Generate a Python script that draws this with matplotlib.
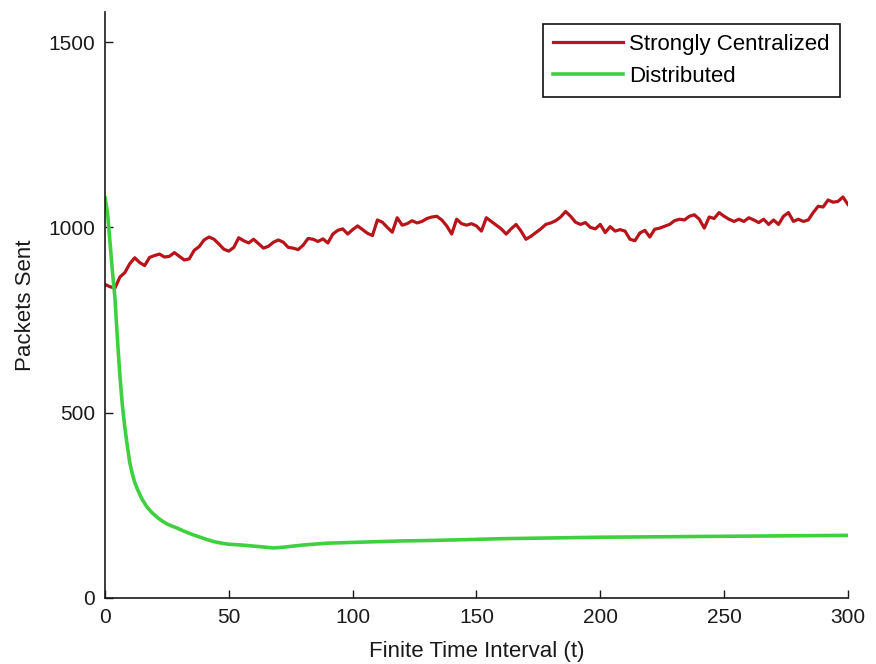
import numpy as np
import matplotlib
matplotlib.use("Agg")
import matplotlib.pyplot as plt

plt.rcParams['font.family'] = ['Liberation Sans', 'DejaVu Sans']

# Strongly centralized scheme: packets sent, sampled every 2 time steps
central_t = list(range(0, 301, 2))
central_packets = [
    846, 840, 836, 866, 878, 902, 918, 905, 897, 919,
    924, 928, 920, 922, 932, 922, 912, 915, 938, 948,
    966, 974, 968, 955, 941, 936, 946, 972, 964, 958,
    968, 956, 944, 949, 960, 966, 960, 946, 944, 940,
    952, 970, 968, 962, 969, 958, 982, 992, 996, 982,
    994, 1004, 994, 984, 978, 1020, 1014, 1000, 987, 1026,
    1006, 1010, 1018, 1012, 1016, 1024, 1028, 1030, 1020, 1004,
    982, 1022, 1010, 1006, 1010, 1004, 990, 1026, 1016, 1006,
    996, 982, 996, 1008, 990, 968, 976, 986, 996, 1008,
    1012, 1018, 1028, 1043, 1030, 1014, 1008, 1013, 1000, 996,
    1008, 986, 1002, 990, 994, 990, 968, 964, 985, 992,
    974, 995, 998, 1003, 1008, 1018, 1022, 1020, 1030, 1034,
    1022, 998, 1028, 1024, 1040, 1030, 1022, 1016, 1022, 1016,
    1026, 1020, 1013, 1022, 1008, 1020, 1008, 1030, 1040, 1016,
    1022, 1016, 1020, 1040, 1057, 1055, 1074, 1068, 1070, 1082,
    1062,
]

# Distributed scheme: packets sent
dist_t = [0, 1, 2, 3, 4, 5, 6, 7, 8, 9, 10, 11, 12, 13, 14, 15, 17, 19, 21,
          23, 25, 27, 29, 32, 35, 38, 41, 44, 47, 50, 55, 60, 65, 68, 72, 76,
          80, 90, 100, 110, 120, 130, 143, 160, 180, 200, 220, 240, 260, 280,
          300]
dist_packets = [1080, 1040, 960, 880, 810, 700, 600, 520, 460, 410, 365, 335,
                312, 295, 280, 266, 245, 230, 218, 208, 200, 194, 189, 180,
                172, 165, 158, 152, 148, 145, 143, 140, 137, 135, 137, 140,
                143, 148, 150, 152, 154, 155, 157, 160, 162, 164, 165, 166,
                167, 168, 169]

x_ticks = [0, 50, 100, 150, 200, 250, 300]
y_ticks = [0, 500, 1000, 1500]

ink = '#1a1a1a'

fig = plt.figure(figsize=(8.76, 6.64), dpi=100)
ax = fig.add_axes([0.1199, 0.0994, 0.848, 0.8830])

ax.plot(central_t, central_packets, color='#b8141a', lw=2.3,
        label='Strongly Centralized')
ax.plot(dist_t, dist_packets, color='#3fd03f', lw=2.6, label='Distributed')

ax.set_xlim(0, 300)
ax.set_ylim(0, 1582)
ax.set_xticks(x_ticks)
ax.set_yticks(y_ticks)
ax.tick_params(direction='in', length=6, width=1, labelsize=15,
               colors=ink, pad=7)
for side in ('top', 'right'):
    ax.spines[side].set_visible(False)
for side in ('left', 'bottom'):
    ax.spines[side].set_linewidth(1.2)
    ax.spines[side].set_color(ink)

ax.set_xlabel('Finite Time Interval (t)', fontsize=16, color=ink,
              labelpad=10)
ax.set_ylabel('Packets Sent', fontsize=16, color=ink, labelpad=9)

leg = ax.legend(loc='upper right', bbox_to_anchor=(0.989, 0.9795),
                fontsize=16, frameon=True, fancybox=False,
                handlelength=3.15, handletextpad=0.3, borderpad=0.45,
                labelspacing=0.5, borderaxespad=0)
leg.get_frame().set_edgecolor('#111111')
leg.get_frame().set_linewidth(1.2)
leg.get_frame().set_alpha(1)

fig.savefig('out.png', dpi=100)
